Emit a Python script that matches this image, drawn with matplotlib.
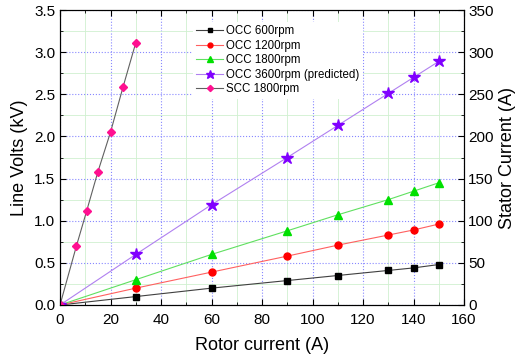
import matplotlib
matplotlib.use("Agg")
import matplotlib.pyplot as plt
from matplotlib.ticker import MultipleLocator

plt.rcParams['font.family'] = ['Liberation Sans', 'DejaVu Sans']

# open circuit curves: rotor current (A) vs line volts (kV)
occ_x = [0, 30, 60, 90, 110, 130, 140, 150]
occ_600 = [0, 0.10, 0.20, 0.29, 0.35, 0.41, 0.44, 0.48]
occ_1200 = [0, 0.20, 0.39, 0.58, 0.71, 0.83, 0.89, 0.96]
occ_1800 = [0, 0.30, 0.60, 0.88, 1.07, 1.25, 1.35, 1.45]
occ_3600 = [0, 0.60, 1.19, 1.75, 2.13, 2.51, 2.70, 2.89]

# short circuit curve: rotor current (A) vs stator current (A)
scc_x = [0, 6.5, 10.5, 15, 20, 25, 30]
scc_1800 = [0, 70, 111, 158, 205, 259, 311]

fig = plt.figure(figsize=(5.19, 3.63), dpi=100)
ax = fig.add_axes([60/519, 1 - 305/363, 404/519, 295/363])
ax2 = ax.twinx()

lw = 0.8
ax.plot(occ_x, occ_600, color='#404040', lw=lw, marker='s', ms=4.5,
        mfc='black', mec='black', label='OCC 600rpm')
ax.plot(occ_x, occ_1200, color='#ff6060', lw=lw, marker='o', ms=5,
        mfc='#ff0000', mec='#ff0000', label='OCC 1200rpm')
ax.plot(occ_x, occ_1800, color='#60e060', lw=lw, marker='^', ms=5.5,
        mfc='#00e000', mec='#00e000', label='OCC 1800rpm')
ax.plot(occ_x, occ_3600, color='#b080f0', lw=lw, marker='*', ms=9,
        mfc='#8000ff', mec='#8000ff', label='OCC 3600rpm (predicted)')
scc_line, = ax2.plot(scc_x, scc_1800, color='#606060', lw=lw, marker='D', ms=4.5,
                     mfc='#ff1090', mec='#ff1090', label='SCC 1800rpm')

ax.set_xlim(0, 160)
ax.set_ylim(0, 3.5)
ax2.set_ylim(0, 350)

ax.xaxis.set_major_locator(MultipleLocator(20))
ax.xaxis.set_minor_locator(MultipleLocator(10))
ax.yaxis.set_major_locator(MultipleLocator(0.5))
ax.yaxis.set_minor_locator(MultipleLocator(0.25))
ax2.yaxis.set_major_locator(MultipleLocator(50))
ax2.yaxis.set_minor_locator(MultipleLocator(25))
ax.yaxis.set_major_formatter(plt.FormatStrFormatter('%.1f'))

ax.grid(which='major', color='#8888ff', ls=':', lw=0.8)
ax.grid(which='minor', color='#d0f0d0', ls='-', lw=0.6)
ax.set_axisbelow(True)

ax.tick_params(which='both', direction='in', top=True, labelsize=11)
ax.tick_params(which='major', length=4)
ax.tick_params(which='minor', length=2.5)
ax.tick_params(axis='x', pad=6)
ax2.tick_params(which='both', direction='in', labelsize=11, pad=3)
ax2.tick_params(which='major', length=4)
ax2.tick_params(which='minor', length=2.5)

ax.set_xlabel('Rotor current (A)', fontsize=13, labelpad=7)
ax.set_ylabel('Line Volts (kV)', fontsize=13)
ax2.set_ylabel('Stator Current (A)', fontsize=13)

handles, labels = ax.get_legend_handles_labels()
handles.append(scc_line)
labels.append('SCC 1800rpm')
leg = ax2.legend(handles, labels, loc='upper left', bbox_to_anchor=(0.315, 0.98),
                 frameon=True, fontsize=8.3, handlelength=2.3, labelspacing=0.22,
                 borderpad=0.3, handletextpad=0.3, markerscale=0.7)
leg.get_frame().set_edgecolor('none')
leg.get_frame().set_alpha(1)

fig.savefig('out.png', dpi=100)
